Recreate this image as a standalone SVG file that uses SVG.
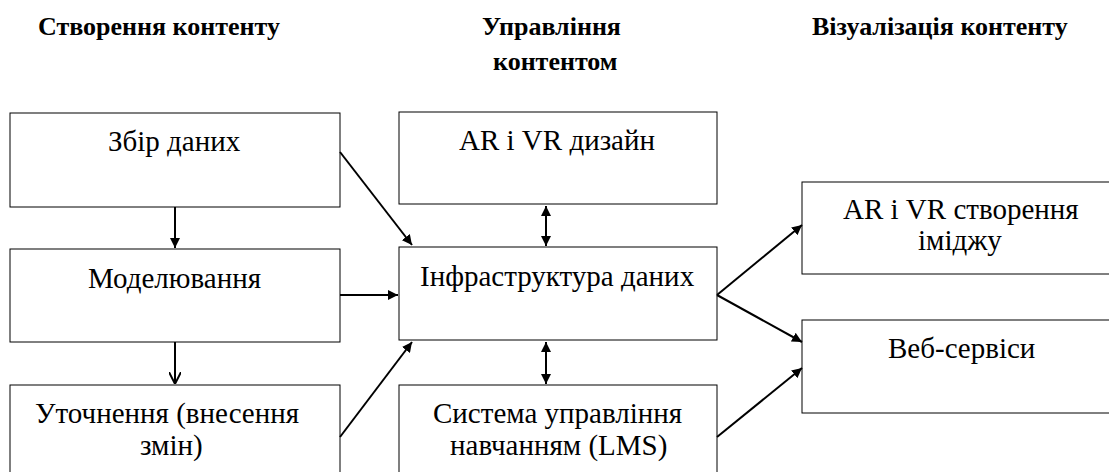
<svg xmlns="http://www.w3.org/2000/svg" width="1109" height="472" viewBox="0 0 1109 472">
<defs>
<marker id="af" viewBox="0 0 10 10" refX="10" refY="5" markerWidth="10" markerHeight="10" markerUnits="userSpaceOnUse" orient="auto-start-reverse"><path d="M0,0 L10,5 L0,10 z" fill="#000"/></marker>
<marker id="ao" viewBox="0 0 10 10" refX="10" refY="5" markerWidth="12" markerHeight="12" markerUnits="userSpaceOnUse" orient="auto"><path d="M0,0 L10,5 L0,10" fill="none" stroke="#000" stroke-width="1.6"/></marker>
</defs>
<g id="headers">
<text font-family="Liberation Serif" font-size="26" font-weight="bold" x="38" y="35">Створення контенту</text>
<text font-family="Liberation Serif" font-size="26" font-weight="bold" x="482" y="35">Управління</text>
<text font-family="Liberation Serif" font-size="26" font-weight="bold" x="493" y="70">контентом</text>
<text font-family="Liberation Serif" font-size="26" font-weight="bold" x="812" y="35">Візуалізація контенту</text>
</g>
<g id="n-zbir"><rect x="10" y="113" width="330" height="94" fill="#fff" stroke="#000"/><text font-family="Liberation Serif" font-size="29" x="108" y="151">Збір даних</text></g>
<g id="n-model"><rect x="10" y="249" width="330" height="93" fill="#fff" stroke="#000"/><text font-family="Liberation Serif" font-size="29" x="88" y="288">Моделювання</text></g>
<g id="n-utoch"><rect x="10" y="385" width="330" height="100" fill="#fff" stroke="#000"/><text font-family="Liberation Serif" font-size="29" x="35" y="423">Уточнення (внесення</text><text font-family="Liberation Serif" font-size="29" x="140" y="455">змін)</text></g>
<g id="n-arvr"><rect x="399" y="112" width="318" height="92" fill="#fff" stroke="#000"/><text font-family="Liberation Serif" font-size="29" x="459" y="150">AR і VR дизайн</text></g>
<g id="n-infra"><rect x="399" y="247" width="318" height="93" fill="#fff" stroke="#000"/><text font-family="Liberation Serif" font-size="29" x="420" y="286">Інфраструктура даних</text></g>
<g id="n-lms"><rect x="399" y="385" width="318" height="100" fill="#fff" stroke="#000"/><text font-family="Liberation Serif" font-size="29" x="433" y="423">Система управління</text><text font-family="Liberation Serif" font-size="29" x="450" y="455">навчанням (LMS)</text></g>
<g id="n-img"><rect x="802" y="182" width="318" height="92" fill="#fff" stroke="#000"/><text font-family="Liberation Serif" font-size="29" x="843" y="219">AR і VR створення</text><text font-family="Liberation Serif" font-size="29" x="918" y="250">іміджу</text></g>
<g id="n-web"><rect x="802" y="320" width="318" height="93" fill="#fff" stroke="#000"/><text font-family="Liberation Serif" font-size="29" x="888" y="358">Веб-сервіси</text></g>
<g id="connectors" stroke="#000" stroke-width="2" fill="none">
<line x1="175" y1="207" x2="175" y2="248" marker-end="url(#af)"/>
<line x1="175" y1="342" x2="175" y2="384" marker-end="url(#ao)"/>
<line x1="340" y1="152" x2="412" y2="245" marker-end="url(#af)"/>
<line x1="340" y1="295" x2="398" y2="295" marker-end="url(#af)"/>
<line x1="340" y1="437" x2="412" y2="342" marker-end="url(#af)"/>
<line x1="546" y1="206" x2="546" y2="246" marker-start="url(#af)" marker-end="url(#af)"/>
<line x1="546" y1="342" x2="546" y2="384" marker-start="url(#af)" marker-end="url(#af)"/>
<line x1="717" y1="295" x2="802" y2="225" marker-end="url(#af)"/>
<line x1="717" y1="295" x2="802" y2="342" marker-end="url(#af)"/>
<line x1="717" y1="437" x2="802" y2="368" marker-end="url(#af)"/>
</g>
</svg>
